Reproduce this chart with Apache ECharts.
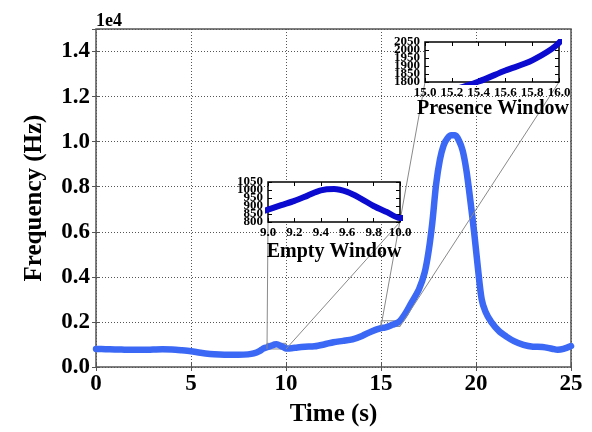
<!DOCTYPE html>
<html><head><meta charset="utf-8">
<script src="https://cdn.jsdelivr.net/npm/echarts@6/dist/echarts.min.js"></script>
<style>html,body{margin:0;padding:0;background:#fff}#c{width:592px;height:432px}</style>
</head><body><div id="c"></div>
<script>
// ---- data ----
const timeS = [0,0.5,1,1.5,2,2.5,3,3.5,4,4.5,5,5.5,6,6.5,7,7.5,8,8.3,8.6,8.8,9,9.1,9.2,9.3,9.4,9.5,9.6,9.7,9.8,9.9,10,10.3,10.6,11,11.5,12,12.5,13,13.5,14,14.5,15,15.2,15.4,15.6,15.8,16,16.3,16.6,17,17.3,17.5,17.7,17.9,18.1,18.3,18.5,18.7,18.9,19.1,19.3,19.5,19.7,19.9,20.1,20.3,20.5,20.8,21.2,21.6,22,22.5,23,23.5,24,24.3,24.6,25];
const freqHz = [800,790,775,770,765,760,775,790,780,745,700,630,580,555,545,545,560,600,700,820,877,905,932,965,998,1006,988,948,900,862,825,835,870,900,920,1000,1100,1160,1230,1380,1580,1725,1750,1803,1872,1935,2045,2400,2850,3450,4200,5100,6400,8100,9200,9850,10150,10280,10280,10050,9600,8700,7400,6000,4400,3000,2450,2000,1600,1350,1150,980,900,890,810,760,800,930];
const xTicks = [0,5,10,15,20,25];
const yTicks = [0,2000,4000,6000,8000,10000,12000,14000];
const emptyWinX = [9,10];
const emptyWinY = [800,1050];
const emptyYTicks = [800,850,900,950,1000,1050];
const presWinX = [15,16];
const presWinY = [1800,2050];
const presYTicks = [1800,1850,1900,1950,2000,2050];
const emptyTitle = 'Empty Window';
const presTitle = 'Presence Window';

const F = 'Liberation Serif';
const mainData = timeS.map((t,i)=>[t,freqHz[i]]);
const chart = echarts.init(document.getElementById('c'), null, {renderer:'canvas'});

function rectPts(wx, wy){ return [[wx[0],wy[0]],[wx[1],wy[0]],[wx[1],wy[1]],[wx[0],wy[1]],[wx[0],wy[0]]]; }

function insetAxes(gi, wx, wy, z){
  const base = {gridIndex:gi, type:'value', z:z, axisLine:{show:false}, splitLine:{show:false},
    axisTick:{show:true, inside:true, length:4, lineStyle:{color:'#000', width:1}}};
  const xb = Object.assign({}, base, {position:'bottom', min:wx[0], max:wx[1], interval:0.2,
    axisLabel:{show:true, margin:4, fontFamily:F, fontWeight:'bold', fontSize:13, color:'#000', hideOverlap:false,
      formatter:v=>v.toFixed(1), showMinLabel:true, showMaxLabel:true}});
  const xt = Object.assign({}, base, {position:'top', min:wx[0], max:wx[1], interval:0.2, axisLabel:{show:false}});
  const yl = Object.assign({}, base, {position:'left', min:wy[0], max:wy[1], interval:50, axisLabel:{show:false}});
  const yr = Object.assign({}, base, {position:'right', min:wy[0], max:wy[1], interval:50, axisLabel:{show:false}});
  return {x:[xb,xt], y:[yl,yr]};
}
const in1 = insetAxes(1, emptyWinX, emptyWinY, 6);
const in2 = insetAxes(2, presWinX, presWinY, 6);

const mainTick = {show:true, inside:true, length:4, lineStyle:{color:'#555', width:1}};
const gridLine = {show:true, lineStyle:{type:[1,2], color:'#555', width:1}};

const option = {
  animation:false,
  backgroundColor:'#fff',
  grid:[
    {left:96, right:21, top:29, bottom:55, show:true, borderColor:'#555', borderWidth:1.5, containLabel:false},
    {left:268, top:182, width:132, height:40, show:true, borderColor:'#000', borderWidth:1.5, backgroundColor:'#fff', z:5},
    {left:425, top:42, width:134, height:40, show:true, borderColor:'#000', borderWidth:1.5, backgroundColor:'#fff', z:5}
  ],
  xAxis:[
    {gridIndex:0, type:'value', position:'bottom', min:xTicks[0], max:xTicks[xTicks.length-1], interval:xTicks[1]-xTicks[0],
      axisLine:{show:false}, axisTick:mainTick, splitLine:gridLine,
      axisLabel:{margin:6, fontFamily:F, fontWeight:'bold', fontSize:23, color:'#000', showMinLabel:true, showMaxLabel:true},
      name:'Time (s)', nameLocation:'middle', nameGap:35,
      nameTextStyle:{fontFamily:F, fontWeight:'bold', fontSize:25, color:'#000'}},
    {gridIndex:0, type:'value', position:'top', min:xTicks[0], max:xTicks[xTicks.length-1], interval:xTicks[1]-xTicks[0],
      axisLine:{show:false}, axisTick:mainTick, splitLine:{show:false}, axisLabel:{show:false}},
    in1.x[0], in1.x[1], in2.x[0], in2.x[1]
  ],
  yAxis:[
    {gridIndex:0, type:'value', position:'left', min:0, max:15000, interval:yTicks[1]-yTicks[0],
      axisLine:{show:false}, axisTick:mainTick, splitLine:gridLine,
      axisLabel:{margin:6, fontFamily:F, fontWeight:'bold', fontSize:23, color:'#000',
        formatter:v=> v>14000 ? '' : (v/1e4).toFixed(1)},
      name:'Frequency (Hz)', nameLocation:'middle', nameGap:49,
      nameTextStyle:{fontFamily:F, fontWeight:'bold', fontSize:25, color:'#000'}},
    {gridIndex:0, type:'value', position:'right', min:0, max:15000, interval:yTicks[1]-yTicks[0],
      axisLine:{show:false}, axisTick:mainTick, splitLine:{show:false}, axisLabel:{show:false}},
    in1.y[0], in1.y[1], in2.y[0], in2.y[1]
  ],
  series:[
    {type:'line', xAxisIndex:0, yAxisIndex:0, data:rectPts(emptyWinX, emptyWinY), symbol:'none', silent:true,
      lineStyle:{color:'#8a8a8a', width:1}, z:2},
    {type:'line', xAxisIndex:0, yAxisIndex:0, data:rectPts(presWinX, presWinY), symbol:'none', silent:true,
      lineStyle:{color:'#8a8a8a', width:1}, z:2},
    {type:'line', xAxisIndex:0, yAxisIndex:0, data:mainData, symbol:'none', smooth:0.3,
      lineStyle:{color:'#3b68f4', width:6.5, cap:'round', join:'round'}, z:3},
    {type:'line', xAxisIndex:2, yAxisIndex:2, data:mainData, symbol:'none', smooth:0.3, clip:true,
      lineStyle:{color:'#0a0ad0', width:6}, z:7},
    {type:'line', xAxisIndex:4, yAxisIndex:4, data:mainData, symbol:'none', smooth:0.3, clip:true,
      lineStyle:{color:'#0a0ad0', width:6}, z:7}
  ]
};
chart.setOption(option);

// connectors (mark_inset style) and inset labels computed from the library's scales
function px(xi, yi, p){ return chart.convertToPixel({xAxisIndex:xi, yAxisIndex:yi}, p); }
const g = [];
function connect(wx, wy, xi, yi){
  [[wx[0],wy[0]],[wx[1],wy[0]]].forEach(p=>{
    const a = px(0,0,p), b = px(xi,yi,p);
    g.push({type:'line', shape:{x1:a[0],y1:a[1],x2:b[0],y2:b[1]}, style:{stroke:'#8a8a8a', lineWidth:1}, z:4, silent:true});
  });
}
connect(emptyWinX, emptyWinY, 2, 2);
connect(presWinX, presWinY, 4, 4);
function yLabels(ticks, wx, xi, yi){
  ticks.forEach(v=>{
    const p = px(xi, yi, [wx[0], v]);
    g.push({type:'text', x:p[0]-5, y:p[1], z:10, silent:true,
      style:{text:String(v), font:'bold 13px "Liberation Serif"', fill:'#000', align:'right', verticalAlign:'middle'}});
  });
}
yLabels(emptyYTicks, emptyWinX, 2, 2);
yLabels(presYTicks, presWinX, 4, 4);
const e1 = px(2,2,[(emptyWinX[0]+emptyWinX[1])/2, emptyWinY[0]]);
const p1 = px(4,4,[(presWinX[0]+presWinX[1])/2, presWinY[0]]);
g.push({type:'text', left:96, top:12, z:10, style:{text:'1e4', font:'bold 18px "Liberation Serif"', fill:'#000'}});
g.push({type:'text', x:e1[0], y:e1[1]+40, z:10, style:{text:emptyTitle, font:'bold 20px "Liberation Serif"', fill:'#000', align:'center', verticalAlign:'bottom'}});
g.push({type:'text', x:p1[0]+1, y:p1[1]+37, z:10, style:{text:presTitle, font:'bold 20px "Liberation Serif"', fill:'#000', align:'center', verticalAlign:'bottom'}});
chart.setOption({graphic:g});
</script>
</body></html>
